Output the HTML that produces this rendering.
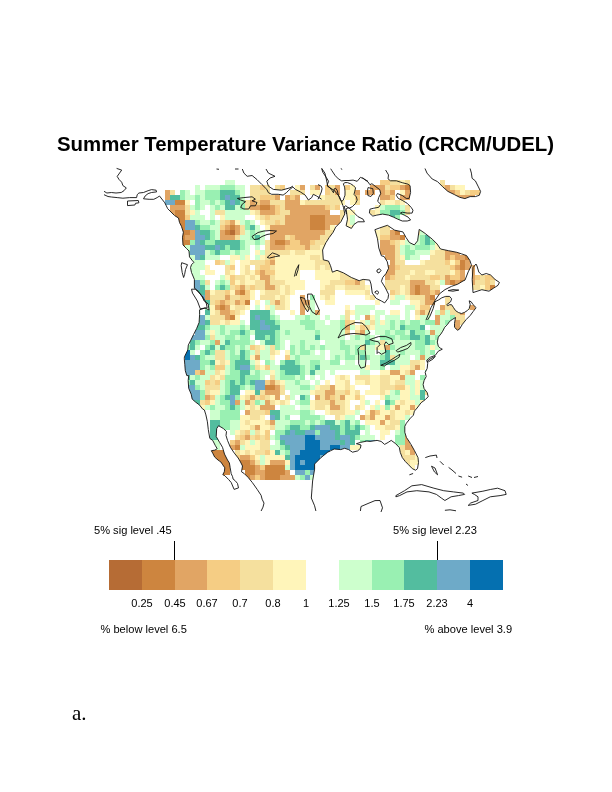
<!DOCTYPE html>
<html><head><meta charset="utf-8">
<style>
html,body{margin:0;padding:0;background:#fff;}
body{width:612px;height:792px;position:relative;overflow:hidden;font-family:"Liberation Sans",Arial,sans-serif;color:#000;}
.t{position:absolute;white-space:nowrap;line-height:1;}
#title{left:57px;top:133.6px;font-weight:bold;font-size:20.4px;}
.s{font-size:11.1px;}
.cb{position:absolute;top:560px;height:30px;}
.tick{position:absolute;width:1px;background:#000;top:541px;height:19px;}
.lab{position:absolute;top:598px;font-size:11px;width:40px;text-align:center;line-height:1;}
#a{left:72px;top:703px;font-family:"Liberation Serif",serif;font-size:21px;}
svg{position:absolute;left:0;top:0;}
</style></head><body>
<svg width="612" height="792" viewBox="0 0 612 792">
<g shape-rendering="crispEdges"><path fill="#b66c35" d="M230 230h5v5h-5z"/>
<path fill="#cd853f" d="M405 185h5v5h-5zM175 200h10v5h-10zM260 205h10v5h-10zM175 210h10v5h-10zM175 215h10v5h-10zM310 215h15v5h-15zM175 220h10v5h-10zM310 220h15v5h-15zM175 225h10v5h-10zM230 225h5v5h-5zM310 225h15v5h-15zM180 230h10v5h-10zM225 230h5v5h-5zM395 230h5v5h-5zM180 235h5v5h-5zM400 235h5v5h-5zM180 240h10v5h-10zM275 240h10v5h-10zM180 245h5v5h-5zM465 255h5v5h-5zM460 260h5v5h-5zM460 265h5v5h-5zM450 280h5v5h-5zM460 280h5v5h-5zM415 285h5v5h-5zM490 285h5v5h-5zM240 290h5v5h-5zM415 290h5v5h-5zM430 295h5v5h-5zM245 300h5v5h-5zM220 305h5v5h-5zM230 315h5v5h-5zM265 385h10v5h-10zM235 445h5v5h-5zM210 450h15v5h-15zM210 455h20v5h-20zM220 460h10v5h-10zM240 460h10v5h-10zM220 465h10v5h-10zM240 465h15v5h-15zM265 465h20v5h-20zM220 470h10v5h-10zM245 470h10v5h-10zM265 470h20v5h-20zM220 475h5v5h-5zM245 475h5v5h-5zM265 475h15v5h-15z"/>
<path fill="#e1a564" d="M300 185h5v5h-5zM315 185h5v5h-5zM335 185h5v5h-5zM370 185h15v5h-15zM400 185h5v5h-5zM445 185h5v5h-5zM165 190h5v5h-5zM335 190h5v5h-5zM355 190h5v5h-5zM365 190h10v5h-10zM380 190h5v5h-5zM390 190h5v5h-5zM405 190h5v5h-5zM445 190h10v5h-10zM165 195h5v5h-5zM275 195h5v5h-5zM285 195h5v5h-5zM295 195h5v5h-5zM380 195h10v5h-10zM400 195h10v5h-10zM455 195h20v5h-20zM250 200h5v5h-5zM260 200h10v5h-10zM285 200h15v5h-15zM170 205h15v5h-15zM250 205h10v5h-10zM270 205h5v5h-5zM285 205h40v5h-40zM170 210h5v5h-5zM260 210h15v5h-15zM290 210h40v5h-40zM285 215h25v5h-25zM325 215h15v5h-15zM230 220h5v5h-5zM285 220h25v5h-25zM325 220h15v5h-15zM225 225h5v5h-5zM235 225h5v5h-5zM270 225h40v5h-40zM325 225h5v5h-5zM190 230h5v5h-5zM220 230h5v5h-5zM235 230h5v5h-5zM270 230h55v5h-55zM390 230h5v5h-5zM185 235h10v5h-10zM220 235h15v5h-15zM270 235h15v5h-15zM295 235h25v5h-25zM330 235h5v5h-5zM390 235h10v5h-10zM270 240h5v5h-5zM285 240h5v5h-5zM300 240h10v5h-10zM380 240h10v5h-10zM270 245h15v5h-15zM305 245h5v5h-5zM380 245h15v5h-15zM380 250h15v5h-15zM445 250h15v5h-15zM385 255h10v5h-10zM445 255h5v5h-5zM455 255h10v5h-10zM270 260h5v5h-5zM390 260h5v5h-5zM465 260h5v5h-5zM385 265h10v5h-10zM455 265h5v5h-5zM465 265h10v5h-10zM260 270h5v5h-5zM385 270h10v5h-10zM460 270h5v5h-5zM470 270h5v5h-5zM260 275h10v5h-10zM385 275h5v5h-5zM445 275h5v5h-5zM460 275h5v5h-5zM470 275h5v5h-5zM495 275h5v5h-5zM265 280h5v5h-5zM355 280h5v5h-5zM410 280h15v5h-15zM445 280h5v5h-5zM455 280h5v5h-5zM470 280h5v5h-5zM240 285h5v5h-5zM265 285h10v5h-10zM410 285h5v5h-5zM420 285h10v5h-10zM205 290h5v5h-5zM235 290h5v5h-5zM410 290h5v5h-5zM420 290h10v5h-10zM435 290h5v5h-5zM205 295h5v5h-5zM225 295h5v5h-5zM300 295h5v5h-5zM425 295h5v5h-5zM220 300h5v5h-5zM235 300h5v5h-5zM275 300h5v5h-5zM300 300h10v5h-10zM425 300h10v5h-10zM215 305h5v5h-5zM225 305h5v5h-5zM300 305h5v5h-5zM440 305h5v5h-5zM470 305h5v5h-5zM220 310h10v5h-10zM300 310h5v5h-5zM315 310h5v5h-5zM420 310h5v5h-5zM460 310h5v5h-5zM225 315h5v5h-5zM365 315h5v5h-5zM435 315h5v5h-5zM435 320h5v5h-5zM455 320h5v5h-5zM345 325h5v5h-5zM455 325h5v5h-5zM360 330h5v5h-5zM430 330h5v5h-5zM215 340h5v5h-5zM385 345h5v5h-5zM255 355h5v5h-5zM420 355h5v5h-5zM415 365h5v5h-5zM200 370h5v5h-5zM390 370h10v5h-10zM410 370h5v5h-5zM400 375h5v5h-5zM270 380h5v5h-5zM275 385h5v5h-5zM330 385h5v5h-5zM265 390h15v5h-15zM325 390h10v5h-10zM205 395h5v5h-5zM250 395h5v5h-5zM275 395h5v5h-5zM315 395h5v5h-5zM325 395h5v5h-5zM340 395h5v5h-5zM235 400h5v5h-5zM245 400h5v5h-5zM265 400h5v5h-5zM330 400h5v5h-5zM260 405h15v5h-15zM330 405h10v5h-10zM395 405h5v5h-5zM410 405h5v5h-5zM245 410h5v5h-5zM370 410h5v5h-5zM360 415h5v5h-5zM370 415h5v5h-5zM385 415h5v5h-5zM270 420h5v5h-5zM380 420h5v5h-5zM255 425h5v5h-5zM245 435h5v5h-5zM405 435h5v5h-5zM235 440h5v5h-5zM405 440h5v5h-5zM230 445h5v5h-5zM405 445h10v5h-10zM410 450h5v5h-5zM240 455h10v5h-10zM210 460h10v5h-10zM235 460h5v5h-5zM250 460h5v5h-5zM270 460h15v5h-15zM400 460h5v5h-5zM210 465h10v5h-10zM255 465h5v5h-5zM255 470h10v5h-10zM285 470h5v5h-5zM250 475h5v5h-5zM260 475h5v5h-5zM280 475h15v5h-15z"/>
<path fill="#f5cd84" d="M380 180h10v5h-10zM260 185h5v5h-5zM280 185h5v5h-5zM325 185h5v5h-5zM345 185h5v5h-5zM390 185h10v5h-10zM440 185h5v5h-5zM325 190h5v5h-5zM385 190h5v5h-5zM455 190h5v5h-5zM470 190h10v5h-10zM260 195h15v5h-15zM290 195h5v5h-5zM355 195h5v5h-5zM390 195h5v5h-5zM255 200h5v5h-5zM275 205h5v5h-5zM325 205h5v5h-5zM335 205h5v5h-5zM275 210h5v5h-5zM185 215h5v5h-5zM265 215h5v5h-5zM225 220h5v5h-5zM275 220h5v5h-5zM220 225h5v5h-5zM290 235h5v5h-5zM380 235h10v5h-10zM290 240h10v5h-10zM310 240h5v5h-5zM390 240h5v5h-5zM285 245h20v5h-20zM270 255h5v5h-5zM450 255h5v5h-5zM215 260h5v5h-5zM265 260h5v5h-5zM445 260h5v5h-5zM455 260h5v5h-5zM230 265h5v5h-5zM260 265h10v5h-10zM395 265h5v5h-5zM450 265h5v5h-5zM255 270h5v5h-5zM265 270h10v5h-10zM455 270h5v5h-5zM230 275h5v5h-5zM390 275h5v5h-5zM430 275h10v5h-10zM450 275h10v5h-10zM475 275h5v5h-5zM485 275h10v5h-10zM230 280h5v5h-5zM345 280h10v5h-10zM485 280h5v5h-5zM235 285h5v5h-5zM250 285h5v5h-5zM485 285h5v5h-5zM225 290h5v5h-5zM245 290h5v5h-5zM390 290h5v5h-5zM430 290h5v5h-5zM240 295h10v5h-10zM215 300h5v5h-5zM225 300h5v5h-5zM240 300h5v5h-5zM420 305h10v5h-10zM230 310h5v5h-5zM440 310h5v5h-5zM345 320h5v5h-5zM360 325h5v5h-5zM345 330h5v5h-5zM250 345h5v5h-5zM285 355h5v5h-5zM215 365h10v5h-10zM265 365h5v5h-5zM195 370h5v5h-5zM205 380h5v5h-5zM215 380h5v5h-5zM265 380h5v5h-5zM395 385h10v5h-10zM345 390h5v5h-5zM210 395h5v5h-5zM260 395h5v5h-5zM330 395h5v5h-5zM355 395h5v5h-5zM205 400h5v5h-5zM265 410h5v5h-5zM375 410h5v5h-5zM245 430h5v5h-5zM265 430h5v5h-5zM240 435h5v5h-5zM255 435h5v5h-5zM265 435h5v5h-5zM230 440h5v5h-5zM265 450h5v5h-5zM235 455h5v5h-5zM250 455h5v5h-5zM260 465h5v5h-5zM255 475h5v5h-5z"/>
<path fill="#f5e09e" d="M390 180h10v5h-10zM405 180h5v5h-5zM440 180h5v5h-5zM250 185h10v5h-10zM265 185h5v5h-5zM275 185h5v5h-5zM310 185h5v5h-5zM330 185h5v5h-5zM385 185h5v5h-5zM450 185h5v5h-5zM170 190h5v5h-5zM250 190h20v5h-20zM290 190h15v5h-15zM330 190h5v5h-5zM465 190h5v5h-5zM250 195h10v5h-10zM325 195h15v5h-15zM245 200h5v5h-5zM270 200h15v5h-15zM305 200h35v5h-35zM355 200h5v5h-5zM380 200h5v5h-5zM395 200h5v5h-5zM185 205h5v5h-5zM245 205h5v5h-5zM280 205h5v5h-5zM330 205h5v5h-5zM405 205h5v5h-5zM185 210h5v5h-5zM215 210h10v5h-10zM255 210h5v5h-5zM280 210h10v5h-10zM340 210h5v5h-5zM370 210h5v5h-5zM405 210h5v5h-5zM260 215h5v5h-5zM270 215h15v5h-15zM340 215h5v5h-5zM220 220h5v5h-5zM265 220h10v5h-10zM280 220h5v5h-5zM340 220h5v5h-5zM240 225h5v5h-5zM380 225h10v5h-10zM240 230h5v5h-5zM325 230h10v5h-10zM380 230h10v5h-10zM415 230h5v5h-5zM235 235h5v5h-5zM285 235h5v5h-5zM320 235h10v5h-10zM265 240h5v5h-5zM315 240h10v5h-10zM395 240h5v5h-5zM265 245h5v5h-5zM310 245h10v5h-10zM395 245h5v5h-5zM265 250h25v5h-25zM295 250h10v5h-10zM395 250h5v5h-5zM435 250h10v5h-10zM265 255h5v5h-5zM310 255h10v5h-10zM395 255h5v5h-5zM430 255h15v5h-15zM220 260h5v5h-5zM250 260h15v5h-15zM315 260h15v5h-15zM395 260h10v5h-10zM425 260h20v5h-20zM225 265h5v5h-5zM245 265h5v5h-5zM255 265h5v5h-5zM270 265h5v5h-5zM315 265h5v5h-5zM325 265h5v5h-5zM400 265h50v5h-50zM225 270h5v5h-5zM245 270h5v5h-5zM340 270h20v5h-20zM395 270h15v5h-15zM415 270h10v5h-10zM435 270h15v5h-15zM235 275h10v5h-10zM250 275h5v5h-5zM270 275h5v5h-5zM340 275h20v5h-20zM395 275h10v5h-10zM410 275h20v5h-20zM440 275h5v5h-5zM480 275h5v5h-5zM205 280h5v5h-5zM240 280h5v5h-5zM255 280h10v5h-10zM270 280h15v5h-15zM330 280h15v5h-15zM360 280h5v5h-5zM385 280h25v5h-25zM425 280h10v5h-10zM475 280h10v5h-10zM490 280h5v5h-5zM230 285h5v5h-5zM245 285h5v5h-5zM255 285h10v5h-10zM275 285h5v5h-5zM285 285h5v5h-5zM325 285h10v5h-10zM345 285h20v5h-20zM385 285h15v5h-15zM405 285h5v5h-5zM430 285h10v5h-10zM470 285h10v5h-10zM215 290h10v5h-10zM265 290h15v5h-15zM285 290h5v5h-5zM320 290h15v5h-15zM365 290h5v5h-5zM395 290h5v5h-5zM405 290h5v5h-5zM210 295h15v5h-15zM230 295h10v5h-10zM260 295h15v5h-15zM280 295h5v5h-5zM325 295h5v5h-5zM370 295h5v5h-5zM410 295h15v5h-15zM445 295h5v5h-5zM210 300h5v5h-5zM230 300h5v5h-5zM270 300h5v5h-5zM280 300h5v5h-5zM420 300h5v5h-5zM445 300h5v5h-5zM235 305h10v5h-10zM275 305h10v5h-10zM305 305h5v5h-5zM445 305h10v5h-10zM465 305h5v5h-5zM215 310h5v5h-5zM235 310h5v5h-5zM345 310h5v5h-5zM415 310h5v5h-5zM425 310h5v5h-5zM450 310h10v5h-10zM210 315h15v5h-15zM345 315h5v5h-5zM455 315h10v5h-10zM210 320h10v5h-10zM225 320h5v5h-5zM350 320h5v5h-5zM370 320h5v5h-5zM460 320h5v5h-5zM365 325h5v5h-5zM355 330h5v5h-5zM210 335h5v5h-5zM380 340h5v5h-5zM255 345h5v5h-5zM270 345h5v5h-5zM360 345h5v5h-5zM215 350h10v5h-10zM255 350h5v5h-5zM270 350h5v5h-5zM215 355h10v5h-10zM390 355h5v5h-5zM220 360h5v5h-5zM410 360h10v5h-10zM255 365h5v5h-5zM410 365h5v5h-5zM215 370h5v5h-5zM405 370h5v5h-5zM210 375h5v5h-5zM220 375h5v5h-5zM270 375h5v5h-5zM340 375h5v5h-5zM355 375h15v5h-15zM380 375h10v5h-10zM210 380h5v5h-5zM275 380h5v5h-5zM345 380h5v5h-5zM365 380h5v5h-5zM380 380h10v5h-10zM395 380h10v5h-10zM205 385h15v5h-15zM280 385h5v5h-5zM320 385h10v5h-10zM345 385h5v5h-5zM380 385h15v5h-15zM205 390h5v5h-5zM260 390h5v5h-5zM280 390h5v5h-5zM315 390h10v5h-10zM335 390h10v5h-10zM355 390h5v5h-5zM380 390h5v5h-5zM425 390h5v5h-5zM245 395h5v5h-5zM255 395h5v5h-5zM265 395h5v5h-5zM285 395h5v5h-5zM320 395h5v5h-5zM335 395h5v5h-5zM200 400h5v5h-5zM250 400h5v5h-5zM270 400h5v5h-5zM280 400h5v5h-5zM315 400h15v5h-15zM335 400h10v5h-10zM400 400h5v5h-5zM250 405h5v5h-5zM315 405h10v5h-10zM340 405h5v5h-5zM355 405h5v5h-5zM250 410h15v5h-15zM330 410h15v5h-15zM390 410h5v5h-5zM405 410h5v5h-5zM250 415h10v5h-10zM335 415h5v5h-5zM365 415h5v5h-5zM390 415h5v5h-5zM245 420h5v5h-5zM265 420h5v5h-5zM390 420h10v5h-10zM250 425h5v5h-5zM270 425h5v5h-5zM385 425h10v5h-10zM240 430h5v5h-5zM255 430h5v5h-5zM235 435h5v5h-5zM250 435h5v5h-5zM260 435h5v5h-5zM240 440h5v5h-5zM260 440h10v5h-10zM260 445h10v5h-10zM400 445h5v5h-5zM235 450h5v5h-5zM245 450h5v5h-5zM255 450h10v5h-10zM400 450h5v5h-5zM400 455h15v5h-15zM255 460h5v5h-5zM405 460h5v5h-5z"/>
<path fill="#fff5ba" d="M400 180h5v5h-5zM295 185h5v5h-5zM350 185h5v5h-5zM455 185h10v5h-10zM310 190h10v5h-10zM345 190h10v5h-10zM400 190h5v5h-5zM460 190h5v5h-5zM320 195h5v5h-5zM345 195h10v5h-10zM185 200h5v5h-5zM300 200h5v5h-5zM340 200h5v5h-5zM350 200h5v5h-5zM385 200h10v5h-10zM400 200h5v5h-5zM375 205h5v5h-5zM190 210h5v5h-5zM250 210h5v5h-5zM345 210h10v5h-10zM375 210h5v5h-5zM220 215h5v5h-5zM255 215h5v5h-5zM345 215h5v5h-5zM235 220h5v5h-5zM260 220h5v5h-5zM345 220h5v5h-5zM265 225h5v5h-5zM330 225h5v5h-5zM345 225h10v5h-10zM375 230h5v5h-5zM370 235h10v5h-10zM325 240h5v5h-5zM400 240h5v5h-5zM435 240h5v5h-5zM320 245h5v5h-5zM435 245h10v5h-10zM255 250h5v5h-5zM290 250h5v5h-5zM305 250h20v5h-20zM430 250h5v5h-5zM230 255h10v5h-10zM245 255h5v5h-5zM260 255h5v5h-5zM275 255h35v5h-35zM320 255h5v5h-5zM400 255h5v5h-5zM230 260h5v5h-5zM240 260h10v5h-10zM275 260h40v5h-40zM420 260h5v5h-5zM450 260h5v5h-5zM205 265h5v5h-5zM240 265h5v5h-5zM275 265h40v5h-40zM320 265h5v5h-5zM330 265h5v5h-5zM205 270h10v5h-10zM230 270h5v5h-5zM240 270h5v5h-5zM250 270h5v5h-5zM275 270h25v5h-25zM315 270h25v5h-25zM360 270h10v5h-10zM410 270h5v5h-5zM425 270h10v5h-10zM450 270h5v5h-5zM225 275h5v5h-5zM245 275h5v5h-5zM255 275h5v5h-5zM275 275h25v5h-25zM315 275h25v5h-25zM360 275h10v5h-10zM405 275h5v5h-5zM235 280h5v5h-5zM245 280h10v5h-10zM285 280h20v5h-20zM320 280h10v5h-10zM435 280h5v5h-5zM280 285h5v5h-5zM290 285h15v5h-15zM320 285h5v5h-5zM335 285h10v5h-10zM365 285h5v5h-5zM400 285h5v5h-5zM480 285h5v5h-5zM210 290h5v5h-5zM230 290h5v5h-5zM250 290h5v5h-5zM260 290h5v5h-5zM280 290h5v5h-5zM290 290h5v5h-5zM345 290h20v5h-20zM400 290h5v5h-5zM250 295h5v5h-5zM275 295h5v5h-5zM285 295h5v5h-5zM320 295h5v5h-5zM330 295h5v5h-5zM365 295h5v5h-5zM390 295h5v5h-5zM405 295h5v5h-5zM255 300h5v5h-5zM285 300h5v5h-5zM325 300h10v5h-10zM375 300h5v5h-5zM410 300h10v5h-10zM210 305h5v5h-5zM230 305h5v5h-5zM245 305h5v5h-5zM265 305h5v5h-5zM285 305h5v5h-5zM345 305h5v5h-5zM415 305h5v5h-5zM210 310h5v5h-5zM240 310h5v5h-5zM290 310h5v5h-5zM350 310h5v5h-5zM390 310h10v5h-10zM235 315h5v5h-5zM370 315h5v5h-5zM415 315h5v5h-5zM220 320h5v5h-5zM230 320h10v5h-10zM360 320h5v5h-5zM380 320h5v5h-5zM355 325h5v5h-5zM370 325h5v5h-5zM210 330h5v5h-5zM260 345h5v5h-5zM375 345h10v5h-10zM430 345h5v5h-5zM275 350h5v5h-5zM285 350h5v5h-5zM250 355h5v5h-5zM270 355h5v5h-5zM215 360h5v5h-5zM225 360h5v5h-5zM255 360h5v5h-5zM420 360h5v5h-5zM260 365h5v5h-5zM365 365h5v5h-5zM400 365h10v5h-10zM420 365h5v5h-5zM220 370h5v5h-5zM270 370h5v5h-5zM380 370h10v5h-10zM400 370h5v5h-5zM215 375h5v5h-5zM335 375h5v5h-5zM345 375h5v5h-5zM370 375h10v5h-10zM390 375h10v5h-10zM280 380h5v5h-5zM325 380h5v5h-5zM335 380h10v5h-10zM355 380h10v5h-10zM370 380h10v5h-10zM390 380h5v5h-5zM415 380h5v5h-5zM315 385h5v5h-5zM335 385h10v5h-10zM350 385h5v5h-5zM370 385h10v5h-10zM405 385h5v5h-5zM415 385h5v5h-5zM425 385h5v5h-5zM210 390h10v5h-10zM245 390h10v5h-10zM310 390h5v5h-5zM350 390h5v5h-5zM365 390h15v5h-15zM385 390h5v5h-5zM400 390h10v5h-10zM415 390h5v5h-5zM240 395h5v5h-5zM270 395h5v5h-5zM345 395h10v5h-10zM360 395h5v5h-5zM380 395h5v5h-5zM400 395h10v5h-10zM210 400h5v5h-5zM275 400h5v5h-5zM285 400h5v5h-5zM310 400h5v5h-5zM345 400h5v5h-5zM360 400h5v5h-5zM375 400h5v5h-5zM395 400h5v5h-5zM405 400h10v5h-10zM420 400h5v5h-5zM200 405h5v5h-5zM245 405h5v5h-5zM255 405h5v5h-5zM310 405h5v5h-5zM325 405h5v5h-5zM345 405h5v5h-5zM360 405h5v5h-5zM370 405h5v5h-5zM380 405h5v5h-5zM390 405h5v5h-5zM400 405h10v5h-10zM415 405h5v5h-5zM325 410h5v5h-5zM345 410h10v5h-10zM365 410h5v5h-5zM380 410h10v5h-10zM395 410h10v5h-10zM410 410h5v5h-5zM240 415h10v5h-10zM260 415h5v5h-5zM340 415h5v5h-5zM375 415h10v5h-10zM395 415h10v5h-10zM240 420h5v5h-5zM250 420h15v5h-15zM365 420h15v5h-15zM385 420h5v5h-5zM240 425h10v5h-10zM260 425h10v5h-10zM375 425h10v5h-10zM395 425h5v5h-5zM235 430h5v5h-5zM260 430h5v5h-5zM380 430h10v5h-10zM380 435h5v5h-5zM245 440h5v5h-5zM255 440h5v5h-5zM245 445h15v5h-15zM350 445h10v5h-10zM240 450h5v5h-5zM250 450h5v5h-5zM270 450h5v5h-5zM405 450h5v5h-5zM255 455h5v5h-5zM265 455h20v5h-20zM415 455h5v5h-5zM265 460h5v5h-5zM285 460h5v5h-5zM410 460h10v5h-10zM405 465h10v5h-10z"/>
<path fill="#cdffcd" d="M225 180h10v5h-10zM195 185h5v5h-5zM205 185h15v5h-15zM235 185h10v5h-10zM185 190h5v5h-5zM195 190h10v5h-10zM240 190h5v5h-5zM185 195h10v5h-10zM200 195h5v5h-5zM240 195h5v5h-5zM200 200h10v5h-10zM215 200h5v5h-5zM190 205h5v5h-5zM200 205h5v5h-5zM210 205h5v5h-5zM220 205h5v5h-5zM235 205h5v5h-5zM380 205h5v5h-5zM400 205h5v5h-5zM195 210h5v5h-5zM210 210h5v5h-5zM225 210h25v5h-25zM190 215h15v5h-15zM210 215h5v5h-5zM225 215h20v5h-20zM350 215h5v5h-5zM380 215h5v5h-5zM200 220h10v5h-10zM215 220h5v5h-5zM240 220h5v5h-5zM250 220h5v5h-5zM350 220h5v5h-5zM210 225h10v5h-10zM255 225h5v5h-5zM215 230h5v5h-5zM245 230h5v5h-5zM255 230h10v5h-10zM420 230h5v5h-5zM215 235h5v5h-5zM240 235h10v5h-10zM260 235h5v5h-5zM415 235h5v5h-5zM430 235h5v5h-5zM245 240h10v5h-10zM260 240h5v5h-5zM405 240h15v5h-15zM185 245h5v5h-5zM245 245h5v5h-5zM255 245h5v5h-5zM400 245h5v5h-5zM410 245h5v5h-5zM430 245h5v5h-5zM205 250h5v5h-5zM230 250h5v5h-5zM240 250h10v5h-10zM260 250h5v5h-5zM400 250h5v5h-5zM415 250h15v5h-15zM185 255h10v5h-10zM205 255h15v5h-15zM240 255h5v5h-5zM255 255h5v5h-5zM410 255h10v5h-10zM190 260h15v5h-15zM225 260h5v5h-5zM190 265h15v5h-15zM190 270h10v5h-10zM190 275h15v5h-15zM220 275h5v5h-5zM215 280h5v5h-5zM225 280h5v5h-5zM440 280h5v5h-5zM205 285h5v5h-5zM395 295h10v5h-10zM190 300h10v5h-10zM265 300h5v5h-5zM310 300h5v5h-5zM390 300h10v5h-10zM190 305h10v5h-10zM255 305h5v5h-5zM270 305h5v5h-5zM310 305h5v5h-5zM355 305h20v5h-20zM405 305h10v5h-10zM270 310h5v5h-5zM310 310h5v5h-5zM355 310h15v5h-15zM375 310h10v5h-10zM405 310h5v5h-5zM435 310h5v5h-5zM445 310h5v5h-5zM205 315h5v5h-5zM275 315h5v5h-5zM295 315h10v5h-10zM310 315h10v5h-10zM325 315h5v5h-5zM340 315h5v5h-5zM355 315h5v5h-5zM375 315h5v5h-5zM385 315h15v5h-15zM405 315h5v5h-5zM420 315h10v5h-10zM440 315h10v5h-10zM240 320h5v5h-5zM280 320h20v5h-20zM315 320h10v5h-10zM330 320h10v5h-10zM365 320h5v5h-5zM375 320h5v5h-5zM385 320h5v5h-5zM395 320h5v5h-5zM405 320h5v5h-5zM420 320h5v5h-5zM440 320h5v5h-5zM210 325h10v5h-10zM225 325h15v5h-15zM245 325h5v5h-5zM280 325h25v5h-25zM315 325h25v5h-25zM350 325h5v5h-5zM375 325h15v5h-15zM395 325h5v5h-5zM430 325h15v5h-15zM205 330h5v5h-5zM215 330h5v5h-5zM225 330h5v5h-5zM250 330h5v5h-5zM280 330h5v5h-5zM290 330h25v5h-25zM320 330h25v5h-25zM365 330h5v5h-5zM375 330h10v5h-10zM390 330h5v5h-5zM405 330h5v5h-5zM425 330h5v5h-5zM435 330h10v5h-10zM215 335h10v5h-10zM235 335h5v5h-5zM280 335h35v5h-35zM320 335h25v5h-25zM350 335h5v5h-5zM360 335h5v5h-5zM370 335h5v5h-5zM395 335h5v5h-5zM430 335h5v5h-5zM200 340h10v5h-10zM220 340h5v5h-5zM250 340h5v5h-5zM260 340h5v5h-5zM280 340h5v5h-5zM290 340h10v5h-10zM305 340h15v5h-15zM325 340h15v5h-15zM345 340h20v5h-20zM375 340h5v5h-5zM385 340h30v5h-30zM435 340h5v5h-5zM195 345h5v5h-5zM215 345h5v5h-5zM235 345h5v5h-5zM245 345h5v5h-5zM265 345h5v5h-5zM280 345h5v5h-5zM295 345h5v5h-5zM305 345h5v5h-5zM315 345h5v5h-5zM325 345h15v5h-15zM350 345h5v5h-5zM365 345h10v5h-10zM395 345h20v5h-20zM425 345h5v5h-5zM435 345h5v5h-5zM190 350h5v5h-5zM225 350h5v5h-5zM235 350h5v5h-5zM250 350h5v5h-5zM260 350h10v5h-10zM295 350h5v5h-5zM310 350h5v5h-5zM320 350h5v5h-5zM330 350h15v5h-15zM350 350h5v5h-5zM365 350h10v5h-10zM380 350h5v5h-5zM390 350h10v5h-10zM405 350h15v5h-15zM425 350h5v5h-5zM205 355h10v5h-10zM225 355h5v5h-5zM260 355h10v5h-10zM290 355h5v5h-5zM300 355h25v5h-25zM330 355h5v5h-5zM340 355h5v5h-5zM355 355h5v5h-5zM370 355h10v5h-10zM395 355h15v5h-15zM415 355h5v5h-5zM425 355h5v5h-5zM250 360h5v5h-5zM270 360h5v5h-5zM300 360h10v5h-10zM320 360h10v5h-10zM345 360h10v5h-10zM360 360h5v5h-5zM370 360h10v5h-10zM395 360h15v5h-15zM205 365h5v5h-5zM225 365h5v5h-5zM270 365h10v5h-10zM305 365h5v5h-5zM320 365h45v5h-45zM370 365h10v5h-10zM390 365h10v5h-10zM205 370h10v5h-10zM225 370h5v5h-5zM250 370h5v5h-5zM260 370h10v5h-10zM275 370h5v5h-5zM305 370h5v5h-5zM315 370h10v5h-10zM330 370h5v5h-5zM360 370h10v5h-10zM190 375h5v5h-5zM200 375h10v5h-10zM260 375h5v5h-5zM275 375h5v5h-5zM295 375h5v5h-5zM310 375h5v5h-5zM320 375h5v5h-5zM405 375h10v5h-10zM195 380h10v5h-10zM220 380h5v5h-5zM285 380h10v5h-10zM300 380h10v5h-10zM315 380h5v5h-5zM405 380h10v5h-10zM420 380h5v5h-5zM200 385h5v5h-5zM220 385h5v5h-5zM245 385h5v5h-5zM285 385h15v5h-15zM310 385h5v5h-5zM410 385h5v5h-5zM420 385h5v5h-5zM220 390h5v5h-5zM290 390h20v5h-20zM390 390h5v5h-5zM410 390h5v5h-5zM215 395h5v5h-5zM290 395h5v5h-5zM390 395h10v5h-10zM410 395h10v5h-10zM215 400h5v5h-5zM240 400h5v5h-5zM260 400h5v5h-5zM295 400h5v5h-5zM365 400h5v5h-5zM415 400h5v5h-5zM195 405h5v5h-5zM205 405h5v5h-5zM215 405h10v5h-10zM240 405h5v5h-5zM280 405h15v5h-15zM300 405h10v5h-10zM375 405h5v5h-5zM210 410h10v5h-10zM280 410h20v5h-20zM310 410h5v5h-5zM355 410h5v5h-5zM210 415h10v5h-10zM280 415h5v5h-5zM320 415h5v5h-5zM345 415h10v5h-10zM405 415h5v5h-5zM230 420h10v5h-10zM275 420h15v5h-15zM305 420h5v5h-5zM315 420h5v5h-5zM335 420h5v5h-5zM350 420h5v5h-5zM230 425h10v5h-10zM275 425h10v5h-10zM365 425h5v5h-5zM230 430h5v5h-5zM250 430h5v5h-5zM365 430h5v5h-5zM395 430h5v5h-5zM270 435h5v5h-5zM360 435h15v5h-15zM210 440h10v5h-10zM250 440h5v5h-5zM275 440h5v5h-5zM210 445h10v5h-10zM240 445h5v5h-5zM270 445h10v5h-10zM360 445h10v5h-10zM395 445h5v5h-5zM280 450h5v5h-5zM260 455h5v5h-5zM260 460h5v5h-5zM285 465h5v5h-5zM295 475h5v5h-5zM310 475h5v5h-5z"/>
<path fill="#99f0b2" d="M220 185h15v5h-15zM180 190h5v5h-5zM205 190h15v5h-15zM235 190h5v5h-5zM180 195h5v5h-5zM195 195h5v5h-5zM205 195h15v5h-15zM195 200h5v5h-5zM210 200h5v5h-5zM220 200h5v5h-5zM240 200h5v5h-5zM195 205h5v5h-5zM215 205h5v5h-5zM240 205h5v5h-5zM385 205h15v5h-15zM380 210h10v5h-10zM400 210h5v5h-5zM385 215h5v5h-5zM395 215h5v5h-5zM195 220h5v5h-5zM210 220h5v5h-5zM245 220h5v5h-5zM200 225h10v5h-10zM245 225h5v5h-5zM210 230h5v5h-5zM250 230h5v5h-5zM210 235h5v5h-5zM250 235h5v5h-5zM420 235h5v5h-5zM190 240h5v5h-5zM205 240h10v5h-10zM240 240h5v5h-5zM255 240h5v5h-5zM420 240h5v5h-5zM430 240h5v5h-5zM225 245h5v5h-5zM240 245h5v5h-5zM405 245h5v5h-5zM415 245h15v5h-15zM185 250h5v5h-5zM210 250h5v5h-5zM220 250h10v5h-10zM235 250h5v5h-5zM405 250h10v5h-10zM405 255h5v5h-5zM200 280h5v5h-5zM220 280h5v5h-5zM215 285h5v5h-5zM225 285h5v5h-5zM310 295h5v5h-5zM205 305h5v5h-5zM190 310h10v5h-10zM190 315h10v5h-10zM270 315h5v5h-5zM305 315h5v5h-5zM450 315h5v5h-5zM275 320h5v5h-5zM300 320h15v5h-15zM340 320h5v5h-5zM390 320h5v5h-5zM400 320h5v5h-5zM410 320h10v5h-10zM425 320h10v5h-10zM445 320h5v5h-5zM205 325h5v5h-5zM220 325h5v5h-5zM240 325h5v5h-5zM305 325h10v5h-10zM340 325h5v5h-5zM390 325h5v5h-5zM405 325h15v5h-15zM220 330h5v5h-5zM230 330h10v5h-10zM245 330h5v5h-5zM275 330h5v5h-5zM285 330h5v5h-5zM315 330h5v5h-5zM385 330h5v5h-5zM395 330h10v5h-10zM415 330h10v5h-10zM205 335h5v5h-5zM225 335h10v5h-10zM240 335h10v5h-10zM265 335h5v5h-5zM275 335h5v5h-5zM355 335h5v5h-5zM365 335h5v5h-5zM380 335h15v5h-15zM400 335h10v5h-10zM420 335h5v5h-5zM435 335h5v5h-5zM195 340h5v5h-5zM210 340h5v5h-5zM230 340h20v5h-20zM275 340h5v5h-5zM300 340h5v5h-5zM340 340h5v5h-5zM370 340h5v5h-5zM415 340h10v5h-10zM430 340h5v5h-5zM185 345h5v5h-5zM205 345h5v5h-5zM225 345h10v5h-10zM240 345h5v5h-5zM275 345h5v5h-5zM290 345h5v5h-5zM300 345h5v5h-5zM310 345h5v5h-5zM320 345h5v5h-5zM340 345h10v5h-10zM355 345h5v5h-5zM390 345h5v5h-5zM415 345h10v5h-10zM200 350h5v5h-5zM210 350h5v5h-5zM230 350h5v5h-5zM245 350h5v5h-5zM290 350h5v5h-5zM300 350h10v5h-10zM345 350h5v5h-5zM355 350h10v5h-10zM400 350h5v5h-5zM420 350h5v5h-5zM430 350h5v5h-5zM200 355h5v5h-5zM230 355h10v5h-10zM245 355h5v5h-5zM295 355h5v5h-5zM335 355h5v5h-5zM345 355h10v5h-10zM365 355h5v5h-5zM380 355h5v5h-5zM200 360h10v5h-10zM230 360h5v5h-5zM265 360h5v5h-5zM280 360h5v5h-5zM295 360h5v5h-5zM310 360h10v5h-10zM330 360h10v5h-10zM200 365h5v5h-5zM210 365h5v5h-5zM230 365h5v5h-5zM250 365h5v5h-5zM300 365h5v5h-5zM310 365h5v5h-5zM380 365h5v5h-5zM230 370h10v5h-10zM255 370h5v5h-5zM280 370h5v5h-5zM300 370h5v5h-5zM425 370h5v5h-5zM195 375h5v5h-5zM225 375h15v5h-15zM245 375h15v5h-15zM280 375h15v5h-15zM300 375h5v5h-5zM420 375h5v5h-5zM185 380h5v5h-5zM225 380h5v5h-5zM235 380h5v5h-5zM245 380h5v5h-5zM295 380h5v5h-5zM195 385h5v5h-5zM225 385h5v5h-5zM240 385h5v5h-5zM250 385h5v5h-5zM300 385h10v5h-10zM200 390h5v5h-5zM225 390h5v5h-5zM395 390h5v5h-5zM200 395h5v5h-5zM220 395h5v5h-5zM235 395h5v5h-5zM305 395h5v5h-5zM385 395h5v5h-5zM220 400h10v5h-10zM255 400h5v5h-5zM300 400h10v5h-10zM390 400h5v5h-5zM210 405h5v5h-5zM225 405h5v5h-5zM235 405h5v5h-5zM385 405h5v5h-5zM220 410h20v5h-20zM300 410h10v5h-10zM220 415h20v5h-20zM285 415h5v5h-5zM300 415h20v5h-20zM220 420h10v5h-10zM290 420h15v5h-15zM310 420h5v5h-5zM320 420h5v5h-5zM340 420h5v5h-5zM355 420h5v5h-5zM400 420h5v5h-5zM220 425h10v5h-10zM285 425h5v5h-5zM300 425h10v5h-10zM340 425h5v5h-5zM350 425h5v5h-5zM360 425h5v5h-5zM400 425h5v5h-5zM275 430h10v5h-10zM315 430h5v5h-5zM340 430h5v5h-5zM400 430h5v5h-5zM275 435h5v5h-5zM355 435h5v5h-5zM395 435h10v5h-10zM360 440h5v5h-5zM395 440h10v5h-10zM280 445h5v5h-5zM285 450h5v5h-5zM305 470h5v5h-5zM300 475h5v5h-5z"/>
<path fill="#53bd9f" d="M220 190h15v5h-15zM170 195h10v5h-10zM220 195h5v5h-5zM230 195h10v5h-10zM225 200h5v5h-5zM235 200h5v5h-5zM225 205h10v5h-10zM390 210h10v5h-10zM390 215h5v5h-5zM195 225h5v5h-5zM250 225h5v5h-5zM200 230h10v5h-10zM205 235h5v5h-5zM255 235h5v5h-5zM425 235h5v5h-5zM200 240h5v5h-5zM215 240h25v5h-25zM425 240h5v5h-5zM205 245h10v5h-10zM220 245h5v5h-5zM230 245h10v5h-10zM215 250h5v5h-5zM200 255h5v5h-5zM200 285h5v5h-5zM220 285h5v5h-5zM190 290h15v5h-15zM190 295h10v5h-10zM205 300h5v5h-5zM205 310h5v5h-5zM250 310h20v5h-20zM250 315h5v5h-5zM260 315h10v5h-10zM190 320h10v5h-10zM205 320h5v5h-5zM250 320h10v5h-10zM265 320h10v5h-10zM190 325h15v5h-15zM250 325h10v5h-10zM270 325h10v5h-10zM400 325h5v5h-5zM420 325h5v5h-5zM240 330h5v5h-5zM255 330h20v5h-20zM410 330h5v5h-5zM255 335h10v5h-10zM270 335h5v5h-5zM315 335h5v5h-5zM410 335h10v5h-10zM425 335h5v5h-5zM190 340h5v5h-5zM225 340h5v5h-5zM265 340h10v5h-10zM365 340h5v5h-5zM425 340h5v5h-5zM190 345h5v5h-5zM210 345h5v5h-5zM220 345h5v5h-5zM205 350h5v5h-5zM240 350h5v5h-5zM385 350h5v5h-5zM195 355h5v5h-5zM240 355h5v5h-5zM360 355h5v5h-5zM385 355h5v5h-5zM210 360h5v5h-5zM235 360h15v5h-15zM285 360h10v5h-10zM380 360h15v5h-15zM235 365h5v5h-5zM280 365h20v5h-20zM315 365h5v5h-5zM240 370h10v5h-10zM285 370h15v5h-15zM310 370h5v5h-5zM185 375h5v5h-5zM240 375h5v5h-5zM190 380h5v5h-5zM230 380h5v5h-5zM240 380h5v5h-5zM250 380h5v5h-5zM230 385h10v5h-10zM230 390h10v5h-10zM255 390h5v5h-5zM420 390h5v5h-5zM225 395h5v5h-5zM300 395h5v5h-5zM420 395h5v5h-5zM190 400h10v5h-10zM385 400h5v5h-5zM230 405h5v5h-5zM270 410h10v5h-10zM275 415h5v5h-5zM210 420h10v5h-10zM325 420h10v5h-10zM345 420h5v5h-5zM210 425h10v5h-10zM290 425h10v5h-10zM310 425h5v5h-5zM330 425h10v5h-10zM345 425h5v5h-5zM355 425h5v5h-5zM210 430h10v5h-10zM285 430h5v5h-5zM295 430h10v5h-10zM335 430h5v5h-5zM345 430h15v5h-15zM210 435h10v5h-10zM335 435h5v5h-5zM350 435h5v5h-5zM280 440h5v5h-5zM340 440h5v5h-5zM350 440h5v5h-5zM365 440h5v5h-5zM285 445h5v5h-5zM275 450h5v5h-5zM285 455h5v5h-5z"/>
<path fill="#6eaac8" d="M225 195h5v5h-5zM165 200h10v5h-10zM230 200h5v5h-5zM185 220h10v5h-10zM185 225h10v5h-10zM195 230h5v5h-5zM195 235h10v5h-10zM195 240h5v5h-5zM190 245h15v5h-15zM215 245h5v5h-5zM190 250h15v5h-15zM195 255h5v5h-5zM190 280h10v5h-10zM190 285h10v5h-10zM200 295h5v5h-5zM200 315h5v5h-5zM255 315h5v5h-5zM200 320h5v5h-5zM260 320h5v5h-5zM260 325h10v5h-10zM195 330h10v5h-10zM190 335h15v5h-15zM190 355h5v5h-5zM185 360h15v5h-15zM185 365h15v5h-15zM240 365h10v5h-10zM185 370h10v5h-10zM255 380h10v5h-10zM185 385h10v5h-10zM255 385h10v5h-10zM185 390h15v5h-15zM190 395h10v5h-10zM230 395h5v5h-5zM230 400h5v5h-5zM270 415h5v5h-5zM315 425h15v5h-15zM290 430h5v5h-5zM305 430h10v5h-10zM320 430h15v5h-15zM280 435h25v5h-25zM315 435h20v5h-20zM340 435h10v5h-10zM285 440h20v5h-20zM320 440h20v5h-20zM345 440h5v5h-5zM370 440h5v5h-5zM290 445h15v5h-15zM320 445h10v5h-10zM340 445h10v5h-10zM290 450h10v5h-10zM290 455h5v5h-5zM320 455h5v5h-5zM290 460h5v5h-5zM300 460h5v5h-5zM290 465h5v5h-5zM295 470h10v5h-10zM310 470h5v5h-5zM305 475h5v5h-5z"/>
<path fill="#0570b0" d="M185 350h5v5h-5zM185 355h5v5h-5zM185 395h5v5h-5zM305 435h10v5h-10zM305 440h15v5h-15zM305 445h15v5h-15zM330 445h10v5h-10zM300 450h30v5h-30zM295 455h25v5h-25zM295 460h5v5h-5zM305 460h15v5h-15zM295 465h20v5h-20z"/></g>
<g fill="#fff" stroke="none"><path d="M0.0 196.0 L159.5 196.0 L164.8 202.8 L167.7 208.7 L174.6 215.6 L178.5 218.0 L179.5 222.5 L181.5 226.4 L183.4 232.3 L182.5 237.2 L183.0 245.0 L186.5 248.5 L189.0 251.0 L189.5 256.9 L192.5 260.8 L193.9 262.3 L191.5 264.7 L190.5 267.6 L191.5 272.5 L194.4 279.4 L194.4 288.2 L198.3 291.2 L202.3 297.1 L204.2 301.0 L208.1 303.9 L209.1 310.0 L205.0 308.0 L199.6 309.8 L199.6 314.7 L199.1 322.5 L196.7 328.4 L193.7 334.3 L190.8 340.2 L188.3 345.1 L187.8 350.0 L184.4 356.9 L184.3 358.9 L184.8 364.8 L185.3 370.7 L186.8 375.6 L188.7 375.6 L188.2 380.5 L188.7 388.3 L191.2 394.2 L192.2 399.1 L195.6 402.1 L199.5 405.0 L202.5 408.9 L204.4 410.0 L205.9 414.9 L207.4 421.8 L208.3 429.6 L209.8 438.4 L212.7 440.4 L215.2 445.3 L217.2 448.7 L214.7 450.2 L211.3 450.7 L212.7 453.1 L214.7 457.1 L218.0 460.0 L220.9 462.0 L222.8 464.9 L224.8 467.8 L224.3 471.8 L222.8 474.7 L224.8 475.7 L228.7 479.6 L231.2 482.5 L234.1 489.4 L238.5 487.9 L238.5 487.9 L237.5 483.5 L235.1 480.6 L233.1 479.1 L232.6 476.7 L231.2 473.7 L230.2 467.8 L229.4 463.0 L227.5 460.0 L224.5 454.1 L222.5 447.3 L219.6 442.4 L216.2 436.5 L216.7 428.6 L218.6 425.7 L218.6 425.7 L223.5 428.6 L226.5 431.6 L226.0 435.5 L227.5 440.4 L230.4 447.3 L234.3 453.1 L238.2 458.0 L240.5 462.0 L242.5 466.0 L241.5 471.8 L244.4 473.7 L248.3 477.6 L252.3 482.5 L257.2 489.4 L261.1 495.3 L262.1 499.2 L264.0 503.1 L263.0 507.1 L261.1 511.0 L0.0 511.0Z"/><path d="M612.0 200.0 L470.0 200.0 L466.0 210.0 L440.0 225.0 L424.1 232.7 L432.3 239.2 L437.2 244.1 L440.5 249.0 L448.6 250.7 L456.8 252.3 L461.7 253.9 L466.6 255.6 L469.9 260.5 L471.5 265.4 L476.0 264.0 L477.0 266.0 L478.8 272.0 L481.8 275.0 L486.2 273.5 L490.6 275.0 L495.0 279.4 L499.4 282.4 L498.0 285.3 L493.5 288.2 L489.0 291.2 L481.8 289.7 L473.0 292.6 L471.2 301.8 L473.1 304.7 L476.1 307.6 L473.1 311.6 L470.2 315.5 L466.3 319.4 L462.4 324.3 L459.4 329.2 L457.5 330.2 L454.5 327.3 L454.5 323.3 L455.5 317.5 L452.5 319.4 L449.6 321.4 L447.6 324.3 L444.7 327.3 L442.7 331.2 L440.8 334.1 L438.3 337.1 L437.3 342.1 L438.3 346.2 L440.3 348.2 L442.3 349.2 L438.3 351.2 L435.3 355.3 L430.2 357.3 L426.7 360.3 L427.7 363.3 L427.2 368.4 L425.2 372.4 L426.2 376.5 L424.1 380.5 L423.1 384.5 L424.1 388.6 L427.2 392.6 L428.2 396.7 L425.2 399.7 L421.1 402.7 L417.1 408.0 L414.4 411.1 L413.4 415.2 L410.4 418.2 L406.4 423.2 L404.8 426.3 L404.8 432.3 L406.4 437.4 L410.4 443.4 L414.4 450.5 L418.0 457.6 L418.5 462.6 L417.5 468.7 L415.5 470.2 L412.4 468.7 L408.4 464.6 L405.4 461.6 L402.3 457.6 L400.3 452.5 L399.3 447.5 L395.3 443.4 L391.2 440.4 L388.2 442.4 L384.6 444.4 L381.1 441.4 L377.1 440.4 L370.0 441.4 L366.9 441.1 L360.4 442.4 L356.4 443.7 L361.0 445.0 L360.4 448.3 L357.7 450.9 L352.5 452.2 L348.6 449.6 L344.7 448.3 L340.8 449.6 L334.2 449.0 L327.7 452.2 L321.1 457.5 L314.6 464.0 L314.6 469.2 L312.6 481.0 L312.0 488.8 L311.3 498.0 L314.6 505.8 L315.9 511.0 L612.0 511.0Z"/><path d="M433.0 305.0 L435.2 300.2 L439.5 293.8 L445.0 289.6 L451.4 286.4 L457.7 284.2 L463.0 281.0 L465.0 280.1 L468.2 271.9 L471.5 265.4 L472.2 279.4 L473.0 292.6 L471.2 301.8 L469.2 300.8 L470.2 304.7 L469.2 308.6 L467.3 310.6 L464.3 312.5 L461.4 313.5 L458.4 312.5 L455.5 310.6 L453.5 307.6 L451.6 304.7 L449.6 304.7 L447.6 305.7 L446.7 304.7 L450.6 301.8 L451.6 298.8 L449.6 296.4 L445.7 296.4 L441.8 297.8 L438.8 299.8 L434.9 301.8Z"/><path d="M343.5 207.5 L344.8 214.0 L340.9 221.8 L335.7 227.1 L333.1 232.3 L329.2 237.5 L325.9 242.7 L323.9 247.0 L322.6 250.0 L323.3 259.8 L328.5 261.1 L330.5 265.7 L332.4 272.2 L337.0 270.3 L343.5 272.9 L351.4 277.5 L359.2 280.7 L363.1 279.4 L369.7 280.1 L371.0 284.0 L372.3 293.1 L376.2 298.4 L381.4 301.0 L384.7 302.9 L388.0 298.4 L388.6 294.4 L385.4 287.9 L381.4 281.4 L382.7 277.5 L386.0 273.5 L388.6 268.3 L387.3 261.8 L384.1 256.5 L381.4 255.8 L378.8 248.0 L377.5 238.8 L374.9 229.7 L380.0 227.8 L387.4 225.3 L394.7 230.2 L402.9 231.9 L406.1 237.6 L409.4 242.5 L414.3 244.9 L417.6 240.8 L419.2 229.4 L424.1 232.7 L440.0 225.0 L430.0 221.0 L410.6 220.0 L407.2 221.0 L402.3 221.0 L397.4 219.0 L393.4 217.1 L388.5 215.1 L382.6 214.1 L376.8 215.1 L372.8 216.1 L369.4 213.1 L366.0 214.0 L364.4 221.8 L357.9 221.8 L354.0 224.4 L351.4 228.4 L346.1 225.8 L347.5 219.2 L346.1 208.8Z"/><path d="M420.0 168.5 L425.0 168.5 L427.0 173.1 L432.2 179.0 L437.5 181.6 L442.7 186.8 L447.9 191.4 L454.4 194.6 L459.7 197.3 L464.9 198.6 L470.1 196.6 L475.4 196.6 L479.3 195.3 L480.6 191.4 L478.0 186.1 L490.0 191.0 L490.0 205.0 L420.0 205.0Z"/></g>
<g fill="none" stroke="#111" stroke-width="0.9" stroke-linejoin="round" shape-rendering="auto"><path d="M216.5 169.0 L219.0 169.3"/><path d="M235.0 169.0 L238.5 169.0"/><path d="M340.8 168.6 L342.2 169.4"/><path d="M377.0 270.0 L379.5 268.7 L381.0 270.5 L379.0 273.0 L377.0 272.0 L377.0 270.0"/><path d="M374.7 292.0 L377.0 290.7 L379.0 292.5 L377.0 294.4 L374.7 292.0"/><path d="M448.2 290.6 L453.0 289.6 L458.8 290.1 L453.0 291.2 L448.2 290.6"/><path d="M318.0 184.6 L321.3 186.2 L322.1 188.7 L321.3 192.0 L319.6 196.0 L318.0 199.3"/><path d="M116.6 168.4 L121.7 170.1 L117.2 176.4 L118.9 179.3 L121.7 182.2 L122.9 185.6 L126.3 187.9 L124.0 190.7 L121.2 192.5 L116.0 193.0 L111.4 192.5 L106.9 193.0 L104.0 191.3"/><path d="M104.0 194.7 L108.0 196.5 L111.4 197.0 L117.2 197.6 L122.9 198.2 L129.7 197.6 L136.6 197.6 L137.2 194.7 L138.9 193.0 L143.5 192.5 L148.1 190.7 L151.5 189.6 L156.1 190.2 L156.6 191.9 L151.5 192.5 L148.1 193.6 L145.2 195.9 L143.5 198.8 L149.2 199.3 L153.8 199.3 L157.2 197.6 L159.5 196.0"/><path d="M127.5 201.0 L138.3 200.5 L138.9 202.8 L135.5 203.3 L134.9 205.0 L127.5 205.6 L127.5 201.0"/><path d="M159.5 196.0 L164.8 202.8 L167.7 208.7 L174.6 215.6 L178.5 218.0 L179.5 222.5 L181.5 226.4 L183.4 232.3 L182.5 237.2 L183.0 245.0 L186.5 248.5 L189.0 251.0 L189.5 256.9 L192.5 260.8 L193.9 262.3 L191.5 264.7 L190.5 267.6 L191.5 272.5 L194.4 279.4 L194.4 288.2 L198.3 291.2 L202.3 297.1 L204.2 301.0 L208.1 303.9 L209.1 310.0 L205.0 308.0 L199.6 309.8 L199.6 314.7 L199.1 322.5 L196.7 328.4 L193.7 334.3 L190.8 340.2 L188.3 345.1 L187.8 350.0 L184.4 356.9 L184.3 358.9 L184.8 364.8 L185.3 370.7 L186.8 375.6 L188.7 375.6 L188.2 380.5 L188.7 388.3 L191.2 394.2 L192.2 399.1 L195.6 402.1 L199.5 405.0 L202.5 408.9 L204.4 410.0 L205.9 414.9 L207.4 421.8 L208.3 429.6 L209.8 438.4 L212.7 440.4 L215.2 445.3 L217.2 448.7 L214.7 450.2 L211.3 450.7 L212.7 453.1 L214.7 457.1 L218.0 460.0 L220.9 462.0 L222.8 464.9 L224.8 467.8 L224.3 471.8 L222.8 474.7 L224.8 475.7 L228.7 479.6 L231.2 482.5 L234.1 489.4 L238.5 487.9"/><path d="M238.5 487.9 L237.5 483.5 L235.1 480.6 L233.1 479.1 L232.6 476.7 L231.2 473.7 L230.2 467.8 L229.4 463.0 L227.5 460.0 L224.5 454.1 L222.5 447.3 L219.6 442.4 L216.2 436.5 L216.7 428.6 L218.6 425.7"/><path d="M218.6 425.7 L223.5 428.6 L226.5 431.6 L226.0 435.5 L227.5 440.4 L230.4 447.3 L234.3 453.1 L238.2 458.0 L240.5 462.0 L242.5 466.0 L241.5 471.8 L244.4 473.7 L248.3 477.6 L252.3 482.5 L257.2 489.4 L261.1 495.3 L262.1 499.2 L264.0 503.1 L263.0 507.1 L261.1 511.0"/><path d="M181.7 262.7 L187.5 264.7 L185.5 269.6 L184.6 274.5 L183.6 277.5 L182.2 272.5 L181.2 265.6 L181.7 262.7"/><path d="M191.5 289.2 L195.4 289.2 L202.3 296.0 L206.2 303.0 L207.2 307.8 L205.0 308.0 L200.3 308.8 L197.4 301.0 L192.5 293.1 L191.5 289.2"/><path d="M315.9 511.0 L314.6 505.8 L311.3 498.0 L312.0 488.8 L312.6 481.0 L314.6 469.2 L314.6 464.0 L321.1 457.5 L327.7 452.2 L334.2 449.0 L340.8 449.6 L344.7 448.3 L348.6 449.6 L352.5 452.2 L357.7 450.9 L360.4 448.3 L361.0 445.0 L356.4 443.7 L360.4 442.4 L366.9 441.1 L370.0 441.4 L377.1 440.4 L381.1 441.4 L384.6 444.4 L388.2 442.4 L391.2 440.4 L395.3 443.4 L399.3 447.5 L400.3 452.5 L402.3 457.6 L405.4 461.6 L408.4 464.6 L412.4 468.7 L415.5 470.2 L417.5 468.7 L418.5 462.6 L418.0 457.6 L414.4 450.5 L410.4 443.4 L406.4 437.4 L404.8 432.3 L404.8 426.3 L406.4 423.2 L410.4 418.2 L413.4 415.2 L414.4 411.1 L417.1 408.0 L421.1 402.7 L425.2 399.7 L428.2 396.7 L427.2 392.6 L424.1 388.6 L423.1 384.5 L424.1 380.5 L426.2 376.5 L425.2 372.4 L427.2 368.4 L427.7 363.3 L426.7 360.3 L430.2 357.3 L435.3 355.3 L438.3 351.2 L442.3 349.2 L440.3 348.2 L438.3 346.2 L437.3 342.1 L438.3 337.1 L440.8 334.1 L442.7 331.2 L444.7 327.3 L447.6 324.3 L449.6 321.4 L452.5 319.4 L455.5 317.5 L454.5 323.3 L454.5 327.3 L457.5 330.2 L459.4 329.2 L462.4 324.3 L466.3 319.4 L470.2 315.5 L473.1 311.6 L476.1 307.6 L473.1 304.7 L471.2 301.8 L469.2 300.8 L470.2 304.7 L469.2 308.6 L467.3 310.6 L464.3 312.5 L461.4 313.5 L458.4 312.5 L455.5 310.6 L453.5 307.6 L451.6 304.7 L449.6 304.7 L447.6 305.7 L446.7 304.7 L450.6 301.8 L451.6 298.8 L449.6 296.4 L445.7 296.4 L441.8 297.8 L438.8 299.8 L434.9 301.8 L433.1 308.7 L430.0 316.1 L427.5 320.0"/><path d="M426.0 320.0 L428.5 314.0 L431.0 307.6 L435.2 300.2 L439.5 293.8 L445.0 289.6 L451.4 286.4 L457.7 284.2 L463.0 281.0 L465.0 280.1 L468.2 271.9 L471.5 265.4 L469.9 260.5 L466.6 255.6 L461.7 253.9 L456.8 252.3 L448.6 250.7 L440.5 249.0 L437.2 244.1 L432.3 239.2 L424.1 232.7 L419.2 229.4 L417.6 240.8 L414.3 244.9 L409.4 242.5 L406.1 237.6 L402.9 231.9 L394.7 230.2 L387.4 225.3 L380.0 227.8 L374.9 229.7 L377.5 238.8 L378.8 248.0 L381.4 255.8 L384.1 256.5 L387.3 261.8 L388.6 268.3 L386.0 273.5 L382.7 277.5 L381.4 281.4 L385.4 287.9 L388.6 294.4 L388.0 298.4 L384.7 302.9 L381.4 301.0 L376.2 298.4 L372.3 293.1 L371.0 284.0 L369.7 280.1 L363.1 279.4 L359.2 280.7 L351.4 277.5 L343.5 272.9 L337.0 270.3 L332.4 272.2 L330.5 265.7 L328.5 261.1 L323.3 259.8 L322.6 250.0 L323.9 247.0 L325.9 242.7 L329.2 237.5 L333.1 232.3 L335.7 227.1 L340.9 221.8 L344.8 214.0 L343.5 207.5 L342.9 205.5 L339.6 197.0 L334.4 190.5 L327.8 186.5 L326.5 180.0 L324.9 173.1 L321.6 168.2"/><path d="M476.0 264.0 L473.0 267.6 L472.2 279.4 L473.0 292.6 L481.8 289.7 L489.0 291.2 L493.5 288.2 L498.0 285.3 L499.4 282.4 L495.0 279.4 L490.6 275.0 L486.2 273.5 L481.8 275.0 L478.8 272.0 L477.0 266.0 L476.0 264.0"/><path d="M346.1 208.8 L347.5 219.2 L346.1 225.8 L351.4 228.4 L354.0 224.4 L357.9 221.8 L364.4 221.8 L363.1 219.2 L357.9 216.6 L352.7 211.4 L348.8 207.5 L346.1 208.8"/><path d="M321.7 168.7 L322.9 172.4 L326.2 177.3 L328.6 181.3 L327.0 185.4 L329.4 187.1 L331.9 190.3 L333.5 192.8 L334.3 188.7 L335.6 188.3 L337.2 190.3 L338.4 195.2 L340.1 199.3 L341.7 201.4 L343.3 200.1 L344.1 197.7 L345.0 195.2 L345.0 191.1 L344.6 187.1 L343.3 183.8 L345.0 182.6 L347.4 182.6 L350.7 183.8 L353.1 185.4 L355.6 187.9 L354.8 191.1 L354.0 194.4 L356.4 196.9 L357.2 200.1 L355.6 203.4 L352.3 206.7 L349.0 208.3 L345.8 205.8 L344.1 206.7 L345.0 209.1 L346.6 214.0"/><path d="M385.6 170.0 L388.5 174.9 L388.0 178.8 L390.5 180.8 L396.4 180.8 L402.3 182.7 L408.1 184.2 L410.1 185.7 L410.6 192.5 L409.1 198.4 L406.2 198.4 L402.3 195.5 L397.4 193.5 L396.4 195.5 L398.3 198.4 L402.3 200.4 L407.2 203.3 L411.1 207.3 L413.0 210.2 L412.1 213.1 L407.2 213.1 L402.3 212.2 L400.3 213.1 L404.2 215.1 L408.1 217.1 L410.6 220.0 L407.2 221.0 L402.3 221.0 L397.4 219.0 L393.4 217.1 L388.5 215.1 L382.6 214.1 L376.8 215.1 L372.8 216.1 L369.4 213.1 L369.9 209.2 L373.8 208.2 L378.7 207.3 L380.7 204.3 L377.7 201.4 L378.7 197.5 L380.7 193.5 L379.7 189.6 L375.8 186.7 L371.9 183.7 L369.9 184.7 L367.9 181.8 L365.0 179.8 L362.5 177.5"/><path d="M330.7 168.7 L331.9 170.7 L335.2 175.6 L338.4 178.9 L341.7 180.9 L345.0 180.5 L349.0 180.5 L353.1 180.1 L357.2 181.3 L360.5 177.3 L363.8 178.9 L368.0 181.3"/><path d="M368.0 187.6 L372.8 188.6 L373.3 193.5 L370.9 196.5 L367.9 195.5 L367.5 190.6 L368.0 187.6"/><path d="M242.3 169.0 L243.9 173.1 L247.2 176.3 L252.1 175.5 L257.0 179.6 L261.9 184.5 L266.8 189.4 L268.4 192.7 L271.7 194.3 L278.2 194.3 L283.1 195.1 L286.4 192.7 L288.8 190.2 L292.9 187.0 L295.4 189.4 L300.3 191.9 L305.2 195.1 L308.4 200.0 L311.7 197.6 L313.3 194.3 L316.6 196.0 L321.5 199.2"/><path d="M266.0 169.0 L268.4 173.1 L275.0 176.3 L270.1 178.0 L266.8 181.2 L268.4 186.1 L273.3 189.4 L281.5 190.2 L290.0 187.8 L292.9 186.1"/><path d="M425.0 168.5 L427.0 173.1 L432.2 179.0 L437.5 181.6 L442.7 186.8 L447.9 191.4 L454.4 194.6 L459.7 197.3 L464.9 198.6 L470.1 196.6 L475.4 196.6 L479.3 195.3 L480.6 191.4 L478.0 186.1 L475.4 180.9 L472.1 178.3 L471.4 173.1 L470.1 168.5"/><path d="M237.4 198.4 L243.9 197.6 L252.1 196.8 L255.4 199.2 L252.1 200.8 L257.0 202.5 L255.4 205.8 L250.5 205.8 L248.8 209.0 L243.9 209.0 L240.7 207.4 L242.3 204.1 L245.6 201.7 L240.7 200.0 L237.4 198.4"/><path d="M252.0 236.5 L258.0 232.5 L264.0 231.0 L270.0 230.5 L276.5 231.0 L273.0 233.5 L267.0 234.5 L262.0 236.5 L258.0 239.0 L254.0 239.5 L252.0 236.5"/><path d="M267.2 257.4 L272.4 252.9 L276.8 254.4 L279.7 255.9 L275.3 256.6 L269.4 258.1 L267.2 257.4"/><path d="M294.4 276.5 L296.0 270.0 L298.8 264.7 L298.0 270.0 L296.0 276.0"/><path d="M307.6 294.1 L312.0 294.1 L319.4 310.3 L316.5 314.7 L312.0 311.8 L309.1 305.9 L307.6 298.5 L307.6 294.1"/><path d="M300.3 297.1 L304.7 298.5 L306.2 304.4 L309.1 308.8 L307.6 311.8 L304.7 307.4 L301.8 301.5 L300.3 297.1"/><path d="M338.0 338.0 L342.0 330.0 L348.0 325.5 L355.0 322.5 L362.0 323.0 L366.0 326.5 L370.0 333.0 L366.0 335.0 L360.0 334.0 L354.0 333.5 L348.0 334.0 L342.0 335.5 L338.0 338.0"/><path d="M357.9 349.1 L360.9 346.2 L365.3 344.7 L365.3 350.6 L366.0 359.4 L365.3 366.8 L360.9 368.2 L358.7 363.8 L358.7 355.0 L357.9 349.1"/><path d="M369.7 339.6 L378.5 336.6 L385.9 336.6 L391.8 338.8 L393.2 343.2 L388.8 344.7 L385.9 341.8 L384.4 344.7 L385.9 352.1 L381.5 354.3 L378.5 352.1 L377.1 353.5 L377.1 347.6 L380.0 344.7 L378.5 341.8 L374.1 341.0 L369.7 339.6"/><path d="M380.7 365.3 L385.9 363.1 L391.8 359.4 L397.6 355.7 L399.9 354.3 L399.1 357.2 L394.7 360.1 L388.8 363.1 L384.4 366.0 L380.7 365.3"/><path d="M396.2 350.6 L400.6 347.6 L406.5 345.4 L410.9 342.5 L410.9 344.7 L407.9 348.4 L402.1 350.6 L397.6 352.1 L396.2 350.6"/><path d="M427.2 361.3 L431.0 358.5 L435.3 356.3 L433.0 359.0 L428.5 361.8 L427.2 361.3"/><path d="M395.9 495.6 L404.5 490.7 L411.9 485.8 L421.7 484.6 L433.9 488.2 L443.7 490.7 L453.5 491.9 L463.3 493.1 L464.6 494.4 L458.4 495.6 L451.1 496.8 L444.9 500.5 L441.3 498.0 L436.4 494.4 L429.0 491.9 L416.8 490.7 L407.0 491.9 L399.6 495.6 L395.9 496.8 L395.9 495.6"/><path d="M471.9 493.1 L482.9 491.2 L490.3 489.5 L497.6 488.2 L505.0 490.7 L506.2 494.4 L500.1 495.6 L490.3 496.8 L482.9 500.5 L475.6 504.2 L468.2 505.4 L470.7 503.0 L478.0 500.5 L478.0 496.8 L474.4 494.4 L471.9 493.1"/><path d="M444.9 510.3 L450.0 509.8 L456.0 510.8"/><path d="M360.4 511.0 L361.0 506.5 L368.0 503.5 L375.0 500.6 L380.0 500.5 L382.5 507.8 L381.0 512.0"/><path d="M425.3 457.6 L430.0 456.0 L436.4 455.1 L437.0 458.0"/><path d="M440.0 461.3 L443.7 465.0"/><path d="M448.6 467.4 L452.0 470.0 L456.0 473.5"/><path d="M458.4 476.0 L462.1 477.2"/><path d="M468.2 476.0 L472.0 477.5"/><path d="M474.0 477.5 L478.0 476.5"/><path d="M431.5 466.2 L435.0 468.0 L437.6 474.8 L434.5 472.0 L431.5 466.2"/><path d="M409.4 474.8 L413.1 473.5"/><path d="M466.0 484.0 L468.0 485.5"/></g>
</svg>
<div class="t" id="title">Summer Temperature Variance Ratio (CRCM/UDEL)</div>
<div class="t s" style="left:94px;top:525px;">5% sig level .45</div>
<div class="t s" style="left:393px;top:525px;">5% sig level 2.23</div>
<div class="tick" style="left:174px;"></div>
<div class="tick" style="left:437px;"></div>
<div class="cb" style="left:109px;width:33px;background:rgb(182,108,53)"></div>
<div class="cb" style="left:142px;width:33px;background:rgb(205,133,63)"></div>
<div class="cb" style="left:175px;width:32px;background:rgb(225,165,100)"></div>
<div class="cb" style="left:207px;width:33px;background:rgb(245,205,132)"></div>
<div class="cb" style="left:240px;width:33px;background:rgb(245,224,158)"></div>
<div class="cb" style="left:273px;width:33px;background:rgb(255,245,186)"></div>
<div class="cb" style="left:339px;width:33px;background:rgb(205,255,205)"></div>
<div class="cb" style="left:372px;width:32px;background:rgb(153,240,178)"></div>
<div class="cb" style="left:404px;width:33px;background:rgb(83,189,159)"></div>
<div class="cb" style="left:437px;width:33px;background:rgb(110,170,200)"></div>
<div class="cb" style="left:470px;width:33px;background:rgb(5,112,176)"></div>
<div class="lab" style="left:122px">0.25</div>
<div class="lab" style="left:155px">0.45</div>
<div class="lab" style="left:187px">0.67</div>
<div class="lab" style="left:220px">0.7</div>
<div class="lab" style="left:253px">0.8</div>
<div class="lab" style="left:286px">1</div>
<div class="lab" style="left:319px">1.25</div>
<div class="lab" style="left:352px">1.5</div>
<div class="lab" style="left:384px">1.75</div>
<div class="lab" style="left:417px">2.23</div>
<div class="lab" style="left:450px">4</div>
<div class="t s" style="left:100.5px;top:623.6px;">% below level 6.5</div>
<div class="t s" style="left:424.5px;top:623.6px;">% above level 3.9</div>
<div class="t" id="a">a.</div>
</body></html>
